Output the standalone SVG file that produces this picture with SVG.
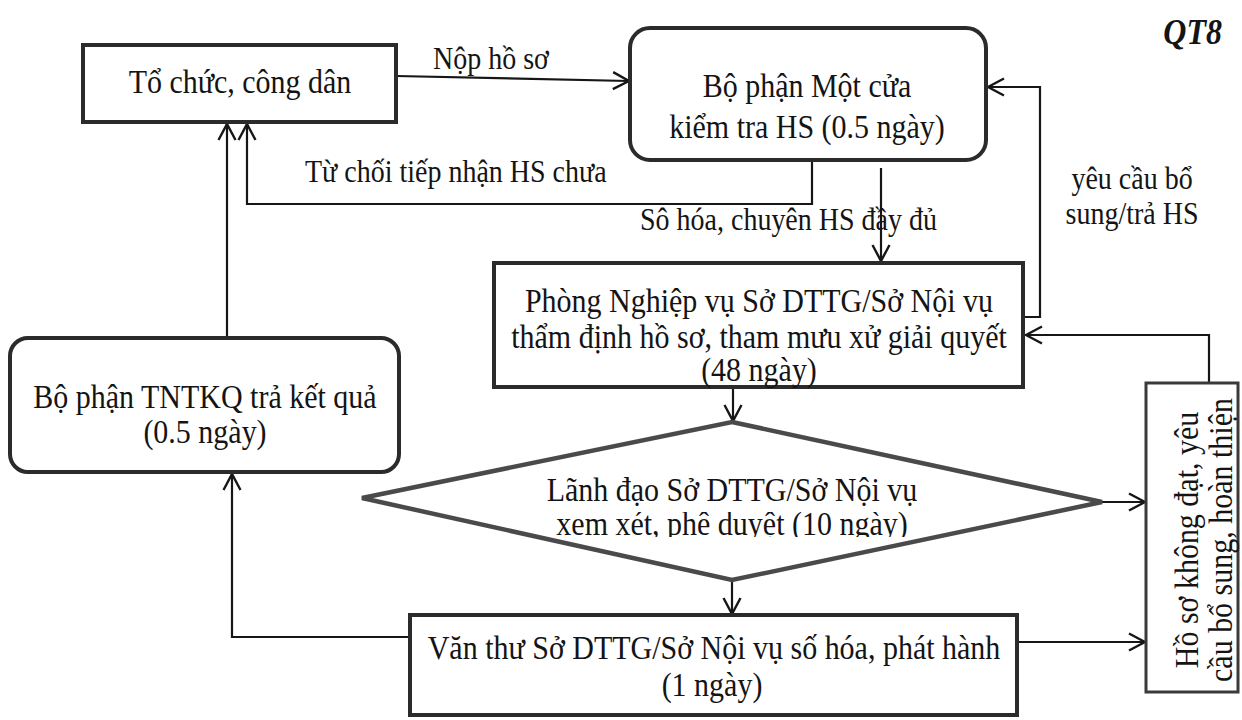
<svg xmlns="http://www.w3.org/2000/svg" width="1242" height="720" viewBox="0 0 1242 720">
  <defs>
    <style>
      text { font-family: "Liberation Serif", "Times New Roman", serif; fill: #141414; }
      .node { font-size: 30px; text-anchor: middle; }
      .label { font-size: 28px; }
      .box { fill: #ffffff; stroke: #2b2b2b; stroke-width: 4; }
      .thin { fill: #ffffff; stroke: #3a3a3a; stroke-width: 3; }
      .diamond { fill: #ffffff; stroke: #4a4a4a; stroke-width: 4.5; stroke-linejoin: miter; }
      .edge { fill: none; stroke: #161616; stroke-width: 2.2; marker-end: url(#arrow); }
    </style>
    <!-- open V-shaped arrowhead -->
    <marker id="arrow" viewBox="0 -10 20 20" refX="18" refY="0" markerWidth="20" markerHeight="20" markerUnits="userSpaceOnUse" orient="auto">
      <path d="M2,-8.5 L18,0 L2,8.5" fill="none" stroke="#161616" stroke-width="2.4" stroke-linejoin="miter"/>
    </marker>
    <!-- the second line of the decision label is cut off at the bottom -->
    <clipPath id="diamond-text-clip">
      <rect x="480" y="512" width="520" height="25"/>
    </clipPath>
  </defs>

  <rect width="1242" height="720" fill="#ffffff"/>

  <!-- process title -->
  <text transform="translate(1222,44) scale(1,1.1)" font-size="32" font-weight="bold" font-style="italic" text-anchor="end">QT8</text>

  <!-- connectors; text is drawn slightly tall (scale 1 x 1.1) throughout -->
  <g id="connectors">
    <path class="edge" d="M396,76 L629,81"/>
    <path class="edge" d="M812,161 L812,204 L247,204 L247,124"/>
    <path class="edge" d="M881,168 L881,261"/>
    <path class="edge" d="M1023,317 L1040,317 L1040,87 L988,87"/>
    <path class="edge" d="M733,387 L733,421"/>
    <path class="edge" d="M732,580 L732,614"/>
    <path class="edge" d="M1102,502 L1145,502"/>
    <path class="edge" d="M1017,642 L1145,642"/>
    <path class="edge" d="M1209,383 L1209,335 L1026,335"/>
    <path class="edge" d="M410,637 L232,637 L232,474"/>
    <path class="edge" d="M227,338 L227,124"/>

    <text class="label" transform="translate(433,69) scale(1,1.1)">Nộp hồ sơ</text>
    <text class="label" transform="translate(305,182) scale(1,1.1)">Từ chối tiếp nhận HS chưa</text>
    <text class="label" transform="translate(640,230) scale(1,1.1)">Sô hóa, chuyên HS đầy đủ</text>
    <text class="label" transform="translate(1132,189) scale(1,1.1)" text-anchor="middle">yêu cầu bổ</text>
    <text class="label" transform="translate(1132,224) scale(1,1.1)" text-anchor="middle">sung/trả HS</text>
  </g>

  <!-- applicant -->
  <g id="to-chuc-cong-dan">
    <rect class="box" x="83" y="45" width="313" height="77"/>
    <text class="node" transform="translate(240,93) scale(1,1.1)">Tổ chức, công dân</text>
  </g>

  <!-- one-stop desk -->
  <g id="bo-phan-mot-cua">
    <rect class="box" x="630" y="28" width="356" height="132" rx="20" ry="20"/>
    <text class="node" transform="translate(807,97) scale(1,1.1)">Bộ phận Một cửa</text>
    <text class="node" transform="translate(807,138) scale(1,1.1)">kiểm tra HS (0.5 ngày)</text>
  </g>

  <!-- appraisal department -->
  <g id="phong-nghiep-vu">
    <rect class="box" x="494" y="263" width="529" height="124"/>
    <text class="node" transform="translate(759,312) scale(1,1.1)">Phòng Nghiệp vụ Sở DTTG/Sở Nội vụ</text>
    <text class="node" transform="translate(759,348) scale(1,1.1)">thẩm định hồ sơ, tham mưu xử giải quyết</text>
    <text class="node" transform="translate(759,381) scale(1,1.1)">(48 ngày)</text>
  </g>

  <!-- approval decision -->
  <g id="lanh-dao-phe-duyet">
    <polygon class="diamond" points="732,422 1102,502 732,580 362,498"/>
    <text class="node" transform="translate(732,501) scale(1,1.1)" font-size="28">Lãnh đạo Sở DTTG/Sở Nội vụ</text>
    <g clip-path="url(#diamond-text-clip)">
      <text class="node" transform="translate(732,535) scale(1,1.1)" font-size="28">xem xét, phê duyệt (10 ngày)</text>
    </g>
  </g>

  <!-- records office -->
  <g id="van-thu">
    <rect class="box" x="410" y="615" width="607" height="100"/>
    <text class="node" transform="translate(714,659) scale(1,1.1)">Văn thư Sở DTTG/Sở Nội vụ số hóa, phát hành</text>
    <text class="node" transform="translate(712,696) scale(1,1.1)">(1 ngày)</text>
  </g>

  <!-- result return desk -->
  <g id="bo-phan-tntkq">
    <rect class="box" x="10" y="338" width="389" height="134" rx="18" ry="18"/>
    <text class="node" transform="translate(205,408) scale(1,1.1)">Bộ phận TNTKQ trả kết quả</text>
    <text class="node" transform="translate(205,443) scale(1,1.1)">(0.5 ngày)</text>
  </g>

  <!-- rejected dossier -->
  <g id="ho-so-khong-dat">
    <rect class="thin" x="1146" y="383" width="92" height="309"/>
    <text class="node" transform="translate(1198,540) rotate(-90) scale(1,1.1)">Hồ sơ không đạt, yêu</text>
    <text class="node" transform="translate(1232,540) rotate(-90) scale(1,1.1)">cầu bổ sung, hoàn thiện</text>
  </g>
</svg>
